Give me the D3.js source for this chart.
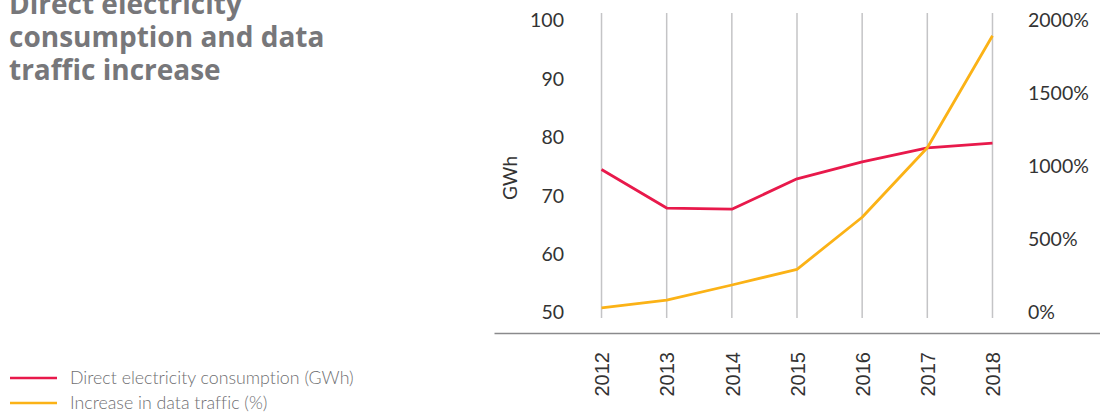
<!DOCTYPE html>
<html>
<head>
<meta charset="utf-8">
<script src="https://cdn.jsdelivr.net/npm/d3@7/dist/d3.min.js"></script>
<style>
  html, body { margin: 0; padding: 0; background: #fff; }
  svg { display: block; }
  text { font-variant-ligatures: none; }
  .title { font-family: "Open Sans", Lato, sans-serif; font-weight: 700; font-size: 28px; fill: #77777a; }
  .tick text { font-family: Lato, sans-serif; font-size: 19.5px; fill: #333; }
  .xaxis .tick text { font-family: "Liberation Sans", Arial, sans-serif; font-size: 20px; fill: #333; }
  .legend text { font-family: Lato, sans-serif; font-weight: 300; font-size: 17.8px; fill: #6f6f72; }
</style>
</head>
<body>
<svg id="chart" width="1100" height="412"></svg>
<script>
// Chart data
const years = ["2012", "2013", "2014", "2015", "2016", "2017", "2018"];
const consumption = [74.4, 67.8, 67.6, 72.8, 75.7, 78.1, 78.9];   // GWh
const trafficIncrease = [29, 82, 185, 292, 649, 1125, 1892];      // %
const leftTicks = [50, 60, 70, 80, 90, 100];
const rightTicks = [0, 500, 1000, 1500, 2000];
const titleLines = ["Direct electricity", "consumption and data", "traffic increase"];
const legendLabels = ["Direct electricity consumption (GWh)", "Increase in data traffic (%)"];

const colors = { consumption: "#e8194b", traffic: "#fbb216" };

const svg = d3.select("#chart");

// Title (first line runs off the top edge)
svg.append("g").selectAll("text")
  .data(titleLines)
  .join("text")
  .attr("class", "title")
  .attr("x", 9)
  .attr("y", (d, i) => 14 + i * 33)
  .text(d => d);

// Scales
const x = d3.scalePoint().domain(years).range([494, 1100]).padding(1.65);
const yLeft = d3.scaleLinear().domain([50, 100]).range([312, 20]);
const yRight = d3.scaleLinear().domain([0, 2000]).range([312, 20]);

// Vertical gridlines
svg.append("g").selectAll("line")
  .data(years)
  .join("line")
  .attr("x1", d => x(d)).attr("x2", d => x(d))
  .attr("y1", 13).attr("y2", 318)
  .attr("stroke", "#c4c4c6")
  .attr("stroke-width", 1.5);

// Left axis
const gl = svg.append("g")
  .attr("transform", "translate(564,0)")
  .call(d3.axisLeft(yLeft).tickValues(leftTicks).tickSize(0).tickPadding(0));
gl.select(".domain").remove();
gl.selectAll(".tick text").attr("dy", "0.35em");

// Right axis
const gr = svg.append("g")
  .attr("transform", "translate(1028,0)")
  .call(d3.axisRight(yRight).tickValues(rightTicks).tickSize(0).tickPadding(0).tickFormat(d => d + "%"));
gr.select(".domain").remove();
gr.selectAll(".tick text").attr("dy", "0.35em");

// Left axis title
svg.append("text")
  .attr("transform", "translate(517,178) rotate(-90)")
  .attr("text-anchor", "middle")
  .style("font-family", "Lato, sans-serif")
  .style("font-size", "19px")
  .style("fill", "#333")
  .text("GWh");

// Bottom axis
const gx = svg.append("g")
  .attr("class", "xaxis")
  .attr("transform", "translate(0,333)")
  .call(d3.axisBottom(x).tickSize(0).tickSizeOuter(0));
gx.select(".domain").attr("stroke", "#8a8a8c").attr("stroke-width", 1.5);
gx.selectAll(".tick text")
  .attr("transform", "rotate(-90)")
  .attr("text-anchor", "end")
  .attr("x", -19)
  .attr("y", 0)
  .attr("dy", "0.36em");

// Lines
const lineLeft = d3.line().x((d, i) => x(years[i])).y(d => yLeft(d));
const lineRight = d3.line().x((d, i) => x(years[i])).y(d => yRight(d));

svg.append("path")
  .datum(consumption)
  .attr("d", lineLeft)
  .attr("fill", "none")
  .attr("stroke", colors.consumption)
  .attr("stroke-width", 2.8)
  .attr("stroke-linejoin", "round");

svg.append("path")
  .datum(trafficIncrease)
  .attr("d", lineRight)
  .attr("fill", "none")
  .attr("stroke", colors.traffic)
  .attr("stroke-width", 2.8)
  .attr("stroke-linejoin", "round");

// Legend
const legend = svg.append("g").attr("class", "legend");
const legendItems = legend.selectAll("g")
  .data(legendLabels)
  .join("g")
  .attr("transform", (d, i) => `translate(0,${378 + i * 25})`);
legendItems.append("line")
  .attr("x1", 10).attr("x2", 57)
  .attr("y1", 0).attr("y2", 0)
  .attr("stroke", (d, i) => i === 0 ? colors.consumption : colors.traffic)
  .attr("stroke-width", 2.5);
legendItems.append("text")
  .attr("x", 70)
  .attr("y", 0)
  .attr("dy", "0.35em")
  .text(d => d);
</script>
</body>
</html>
